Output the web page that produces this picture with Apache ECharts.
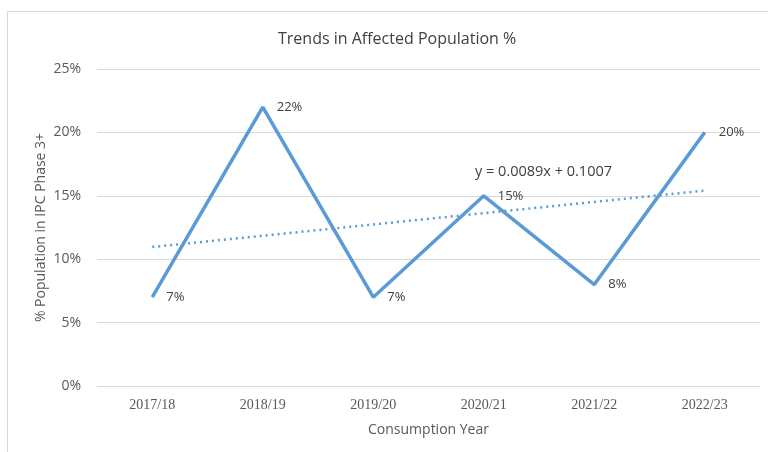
<!DOCTYPE html>
<html>
<head>
<meta charset="utf-8">
<script src="https://cdn.jsdelivr.net/npm/echarts@6/dist/echarts.min.js"></script>
<style>
  html, body { margin: 0; padding: 0; background: #fff; }
  #chart { width: 768px; height: 452px; }
</style>
</head>
<body>
<div id="chart"></div>
<script>
// consumption years and share of population in IPC phase 3+
const years = ['2017/18', '2018/19', '2019/20', '2020/21', '2021/22', '2022/23']
const affected = [0.07, 0.22, 0.07, 0.15, 0.08, 0.20]
// linear trendline as given in the chart: y = 0.0089x + 0.1007
const trendSlope = 0.0089
const trendIntercept = 0.1007
const trend = years.map((y, i) => trendSlope * (i + 1) + trendIntercept)
const yTicks = [0, 0.05, 0.1, 0.15, 0.2, 0.25]

const chart = echarts.init(document.getElementById('chart'))
const sans = 'Open Sans, Noto Sans, sans-serif'
const option = {
  animation: false,
  backgroundColor: '#fff',
  title: {
    text: 'Trends in Affected Population %',
    left: 273,
    top: 26,
    textStyle: { fontFamily: sans, fontSize: 16, fontWeight: 'normal', color: '#404040' }
  },
  graphic: [
    {
      type: 'rect',
      shape: { x: 7.5, y: 11.5, width: 800, height: 500 },
      style: { fill: 'none', stroke: '#d9d9d9', lineWidth: 1 },
      silent: true
    },
    {
      type: 'text',
      left: 475,
      top: 164,
      style: {
        text: 'y = 0.0089x + 0.1007',
        font: '14.5px ' + sans,
        fill: '#404040'
      }
    }
  ],
  grid: { left: 97, right: 8, top: 69, bottom: 66, outerBoundsMode: 'none' },
  xAxis: {
    type: 'category',
    data: years,
    name: 'Consumption Year',
    nameLocation: 'middle',
    nameGap: 37,
    nameTextStyle: { fontFamily: sans, fontSize: 14, color: '#595959' },
    axisLine: { show: false },
    axisTick: { show: false },
    axisLabel: { fontFamily: 'Liberation Serif, serif', fontSize: 14, color: '#595959', margin: 12 }
  },
  yAxis: {
    type: 'value',
    min: 0,
    max: 0.25,
    interval: 0.05,
    name: '% Population in IPC Phase 3+',
    nameLocation: 'middle',
    nameGap: 49,
    nameMoveOverlap: false,
    nameTextStyle: { fontFamily: sans, fontSize: 14, color: '#595959' },
    axisLine: { show: false },
    axisTick: { show: false },
    splitLine: { lineStyle: { color: '#d9d9d9', width: 1 } },
    axisLabel: {
      fontFamily: sans, fontSize: 14, color: '#595959', margin: 16,
      formatter: v => Math.round(v * 100) + '%'
    }
  },
  series: [
    {
      type: 'line',
      data: affected,
      symbol: 'circle',
      symbolSize: 0,
      showSymbol: true,
      itemStyle: { color: '#5b9bd5' },
      lineStyle: { color: '#5b9bd5', width: 3.5 },
      labelLayout: { hideOverlap: false },
      label: {
        show: true,
        position: 'right',
        distance: 14,
        fontFamily: sans,
        fontSize: 13,
        color: '#404040',
        formatter: p => Math.round(p.value * 100) + '%'
      },
      z: 3
    },
    {
      type: 'line',
      data: trend,
      symbol: 'none',
      lineStyle: { color: '#5b9bd5', width: 2.5, type: [2, 4] },
      z: 2
    }
  ]
}
chart.setOption(option)
</script>
</body>
</html>
